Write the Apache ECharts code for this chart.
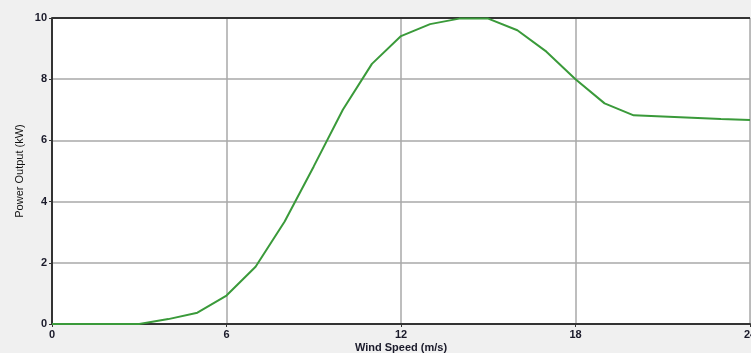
<!DOCTYPE html>
<html>
<head>
<meta charset="utf-8">
<script src="https://cdn.jsdelivr.net/npm/echarts@6/dist/echarts.min.js"></script>
<style>
  html, body { margin: 0; padding: 0; background: #f0f0f0; }
  #chart { width: 751px; height: 353px; }
</style>
</head>
<body>
<div id="chart"></div>
<script>
// wind speed (m/s) and power output (kW)
let windSpeed = [0, 1, 2, 3, 4, 5, 6, 7, 8, 9, 10, 11, 12, 13, 14, 15, 16, 17, 18, 19, 20, 21, 22, 23, 24];
let powerOutput = [0, 0, 0, 0, 0.16, 0.37, 0.93, 1.87, 3.35, 5.15, 7.0, 8.5, 9.41, 9.8, 9.98, 9.98, 9.6, 8.9, 8.0, 7.21, 6.82, 6.78, 6.74, 6.7, 6.67];
let xTicks = [0, 6, 12, 18, 24];
let yTicks = [0, 2, 4, 6, 8, 10];

let chart = echarts.init(document.querySelector('#chart'));

let labelStyle = {
  color: '#1a1a2a',
  fontFamily: 'Liberation Sans, Arial, sans-serif',
  fontSize: 11,
  fontWeight: 'bold'
};

let option = {
  backgroundColor: '#f0f0f0',
  animation: false,
  grid: {
    left: 52,
    right: 1,
    top: 18,
    bottom: 29,
    outerBoundsMode: 'none',
    containLabel: false,
    show: true,
    backgroundColor: '#ffffff',
    borderWidth: 0
  },
  xAxis: {
    type: 'value',
    min: xTicks[0],
    max: xTicks[xTicks.length - 1],
    interval: 6,
    name: 'Wind Speed (m/s)',
    nameLocation: 'middle',
    nameGap: 18,
    nameMoveOverlap: false,
    nameTextStyle: Object.assign({ verticalAlign: 'top' }, labelStyle),
    axisLine: { show: true, lineStyle: { color: '#333333', width: 2 } },
    axisTick: { show: true, length: 3, lineStyle: { color: '#333333' } },
    axisLabel: Object.assign({ margin: 5, hideOverlap: false }, labelStyle),
    splitLine: { show: true, lineStyle: { color: '#a8a8a8', width: 1.5 } }
  },
  yAxis: {
    type: 'value',
    min: yTicks[0],
    max: yTicks[yTicks.length - 1],
    interval: 2,
    name: 'Power Output (kW)',
    nameLocation: 'middle',
    nameGap: 27,
    nameMoveOverlap: false,
    nameTextStyle: Object.assign({}, labelStyle, { fontWeight: 'normal', color: '#111111' }),
    axisLine: { show: true, lineStyle: { color: '#333333', width: 2 } },
    axisTick: { show: true, length: 3, lineStyle: { color: '#333333' } },
    axisLabel: Object.assign({ margin: 5 }, labelStyle),
    splitLine: { show: true, lineStyle: { color: '#a8a8a8', width: 1.5 } }
  },
  series: [{
    type: 'line',
    data: windSpeed.map((w, i) => [w, powerOutput[i]]),
    showSymbol: false,
    smooth: false,
    clip: false,
    lineStyle: { color: '#3a9a3a', width: 2 },
    z: 3
  }, {
    // dark top border of the plot area
    type: 'line',
    data: [[xTicks[0], 10], [xTicks[xTicks.length - 1], 10]],
    showSymbol: false,
    lineStyle: { color: '#333333', width: 2 },
    z: 2,
    silent: true
  }]
};

chart.setOption(option);
</script>
</body>
</html>
